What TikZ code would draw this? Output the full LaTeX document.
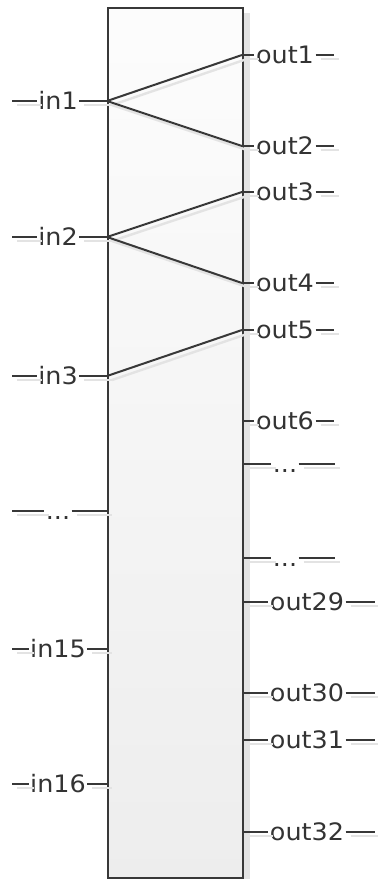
\documentclass[tikz,border=0pt]{standalone}
\usepackage{fontspec}
\setmainfont{DejaVu Sans}[FakeStretch=1.06]
\usetikzlibrary{positioning}

\begin{document}
\begin{tikzpicture}[x=0.5pt, y=-0.5pt, font=\fontsize{12}{14}\selectfont,
  pin/.style={draw=black!78, line width=1pt,
    preaction={draw=black!11, line width=1.2pt, transform canvas={shift={(2.5pt,-2pt)}}}},
  lbl/.style={inner xsep=0.6pt, inner ysep=1pt, text height=8.7pt, text depth=0pt, text=black!80},
  block/.style={draw=black!78, line width=1.2pt, top color=black!1, bottom color=black!7,
    minimum width=67.5pt, minimum height=435pt, inner sep=0pt,
    preaction={fill=black!11, transform canvas={shift={(3.5pt,-2.5pt)}}}}]
  \useasboundingbox (0,0) rectangle (377,879);
  \node[block, anchor=north west] (blk) at (107,7) {};

  \foreach \nm/\yy/\tx in {in1/101/in1, in2/237/in2, in3/376/in3, ind/511/{...},
                           in15/649/in15, in16/784/in16} {
    \coordinate (\nm e) at (12,\yy);
    \coordinate (\nm p) at (107,\yy);
    \node[lbl] (\nm) at (58,\yy) {\tx};
    \draw[pin] (\nm e) -- (\nm.west);
    \draw[pin] (\nm.east) -- (\nm p);
  }

  \foreach \nm/\yy/\xc/\xe/\tx in {o1/55/285/334/out1, o2/146/285/334/out2, o3/192/285/334/out3,
                                   o4/283/285/334/out4, o5/330/285/334/out5, o6/421/285/334/out6,
                                   od1/464/285/335/{...}, od2/558/285/335/{...},
                                   o29/602/307/375/out29, o30/693/307/375/out30,
                                   o31/740/307/375/out31, o32/832/307/375/out32} {
    \coordinate (\nm p) at (242,\yy);
    \coordinate (\nm e) at (\xe,\yy);
    \node[lbl] (\nm) at (\xc,\yy) {\tx};
    \draw[pin] (\nm p) -- (\nm.west);
    \draw[pin] (\nm.east) -- (\nm e);
  }

  \foreach \a/\b in {in1/o1, in1/o2, in2/o3, in2/o4, in3/o5}
    \draw[pin] (\a p) -- (\b p);
\end{tikzpicture}
\end{document}
